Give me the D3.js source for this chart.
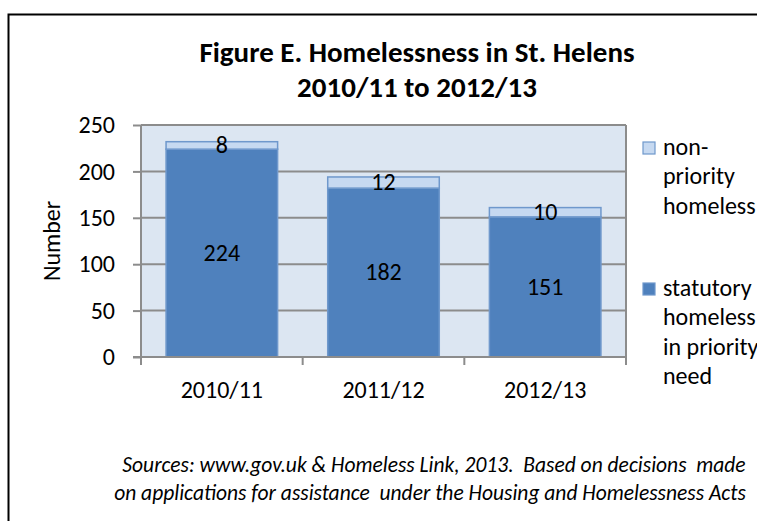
<!DOCTYPE html>
<html><head><meta charset="utf-8">
<script src="https://cdn.jsdelivr.net/npm/d3@7"></script>
<style>body{margin:0;background:#fff;} svg{display:block;font-family:Carlito,Calibri,Lato,sans-serif;}</style>
</head><body>
<script>
const categories = ["2010/11","2011/12","2012/13"];
const statutory = [224,182,151];
const nonPriority = [8,12,10];
const yTicks = [0,50,100,150,200,250];
const legendLines = [["non-","priority","homeless"],["statutory","homeless","in priority","need"]];

const W=757,H=521, FONT="Carlito,Calibri,Lato,sans-serif";
const svg=d3.select("body").append("svg").attr("width",W).attr("height",H);
svg.append("path").attr("d",`M8.5,${H} L8.5,14.5 L${W},14.5`).attr("fill","none").attr("stroke","#000").attr("stroke-width",2);

const m={l:141,r:626,t:125,b:357};
const x=d3.scaleBand().domain(categories).range([m.l,m.r]).paddingInner(0.31).paddingOuter(0.155);
const y=d3.scaleLinear().domain([0,250]).range([m.b,m.t]);

svg.append("rect").attr("x",m.l).attr("y",m.t).attr("width",m.r-m.l).attr("height",m.b-m.t).attr("fill","#DCE6F2");
svg.append("g").selectAll("line").data(yTicks.filter(d=>d>0)).join("line")
 .attr("x1",m.l).attr("x2",m.r).attr("y1",d=>y(d)).attr("y2",d=>y(d)).attr("stroke","#8C8C8C").attr("stroke-width",2);
svg.append("line").attr("x1",m.r).attr("x2",m.r).attr("y1",m.t).attr("y2",m.b).attr("stroke","#8C8C8C").attr("stroke-width",2);

const data=categories.map((c,i)=>({c,s:statutory[i],n:nonPriority[i]}));
const g=svg.append("g");
g.selectAll(".s").data(data).join("rect").attr("x",d=>x(d.c)).attr("width",x.bandwidth())
 .attr("y",d=>y(d.s)).attr("height",d=>y(0)-y(d.s)).attr("fill","#4F81BD").attr("stroke","#6F98CC").attr("stroke-width",1.5);
g.selectAll(".n").data(data).join("rect").attr("x",d=>x(d.c)).attr("width",x.bandwidth())
 .attr("y",d=>y(d.s+d.n)).attr("height",d=>y(d.s)-y(d.s+d.n)).attr("fill","#C6D9F1").attr("stroke","#6F98CC").attr("stroke-width",1.5);

const ya=svg.append("g").attr("transform",`translate(${m.l},0)`).call(d3.axisLeft(y).tickValues(yTicks).tickSize(8).tickPadding(18));
ya.select(".domain").attr("stroke","#8C8C8C").attr("stroke-width",2).attr("d",`M0,${m.t}V${m.b+8}`);
ya.selectAll(".tick line").attr("stroke","#8C8C8C").attr("stroke-width",2);
ya.selectAll("text").attr("font-size",24).attr("fill","#000").attr("font-family",FONT);
const xa=svg.append("g").attr("transform",`translate(0,${m.b})`).call(d3.axisBottom(x).tickSize(0));
xa.select(".domain").attr("stroke","#8C8C8C").attr("stroke-width",2).attr("d",`M${m.l-8},0H${m.r}`);
xa.selectAll("text").attr("font-size",24).attr("fill","#000").attr("font-family",FONT).attr("y",41).attr("dy",0);
const bounds=[m.l].concat(categories.map(c=>x(c)+x.bandwidth()+x.step()*x.paddingInner()/2)).slice(0,3).concat([m.r]);
svg.append("g").selectAll("line").data(bounds).join("line").attr("x1",d=>d).attr("x2",d=>d).attr("y1",m.b).attr("y2",m.b+8).attr("stroke","#8C8C8C").attr("stroke-width",2);

g.selectAll(".ls").data(data).join("text").attr("x",d=>x(d.c)+x.bandwidth()/2).attr("y",d=>(y(d.s)+y(0))/2)
 .attr("dy","0.33em").attr("text-anchor","middle").attr("font-size",24).text(d=>d.s);
g.selectAll(".ln").data(data).join("text").attr("x",d=>x(d.c)+x.bandwidth()/2).attr("y",d=>(y(d.s)+y(d.s+d.n))/2)
 .attr("dy","0.33em").attr("text-anchor","middle").attr("font-size",24).text(d=>d.n);

svg.append("text").attr("transform","translate(60,241) rotate(-90)").attr("text-anchor","middle").attr("font-size",24).text("Number");

svg.append("text").attr("x",417).attr("y",62).attr("text-anchor","middle").attr("font-size",29).attr("font-weight","bold").text("Figure E. Homelessness in St. Helens");
svg.append("text").attr("x",417).attr("y",97).attr("text-anchor","middle").attr("font-size",29).attr("font-weight","bold").text("2010/11 to 2012/13");

const legend=[{lines:legendLines[0],fill:"#C6D9F1",y:155},{lines:legendLines[1],fill:"#4F81BD",y:296}];
legend.forEach(L=>{
  svg.append("rect").attr("x",643).attr("y",L.y-13).attr("width",12).attr("height",12).attr("fill",L.fill).attr("stroke","#6F98CC").attr("stroke-width",1.2);
  L.lines.forEach((t,i)=>svg.append("text").attr("x",663).attr("y",L.y+i*29.3).attr("font-size",24).text(t));
});

svg.append("text").attr("x",434).attr("y",472).attr("text-anchor","middle").attr("font-size",21.5).attr("font-style","italic").style("white-space","pre").text("Sources: www.gov.uk & Homeless Link, 2013.  Based on decisions  made");
svg.append("text").attr("x",430).attr("y",500).attr("text-anchor","middle").attr("font-size",21.5).attr("font-style","italic").style("white-space","pre").text("on applications for assistance  under the Housing and Homelessness Acts");
</script>
</body></html>
